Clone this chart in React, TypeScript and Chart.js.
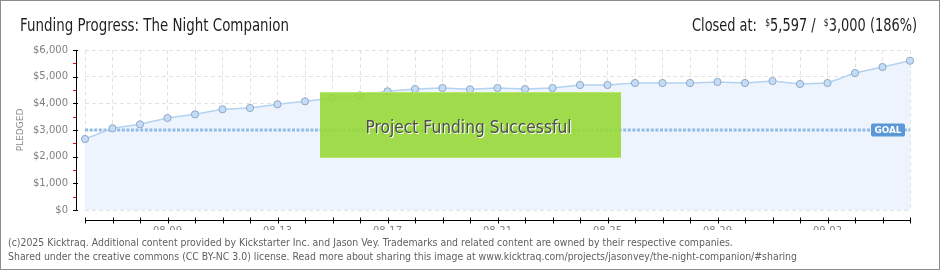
import React, { useEffect, useRef } from 'react';
import { Chart, registerables } from 'chart.js';

Chart.register(...registerables);

const DATES = [
  '08-06', '08-07', '08-08', '08-09', '08-10', '08-11', '08-12', '08-13', '08-14', '08-15',
  '08-16', '08-17', '08-18', '08-19', '08-20', '08-21', '08-22', '08-23', '08-24', '08-25',
  '08-26', '08-27', '08-28', '08-29', '08-30', '08-31', '09-01', '09-02', '09-03', '09-04', '09-05',
];
const PLEDGED = [
  2662, 3063, 3212, 3450, 3587, 3775, 3825, 3962, 4075, 4187,
  4300, 4450, 4537, 4575, 4525, 4575, 4537, 4575, 4687, 4687,
  4762, 4762, 4762, 4800, 4762, 4837, 4725, 4762, 5137, 5362, 5597,
];
const TICK_LABELS = ['08-09', '08-13', '08-17', '08-21', '08-25', '08-29', '09-02'];
const Y_TICKS = [0, 1000, 2000, 3000, 4000, 5000, 6000];
const GOAL = 3000;
const CLOSED = 5597;
const PERCENT = 186;
const TITLE = 'Funding Progress: The Night Companion';
const BANNER = 'Project Funding Successful';
const AXIS_TITLE = 'PLEDGED';
const GOAL_LABEL = 'GOAL';
const FOOTER = [
  '(c)2025 Kicktraq. Additional content provided by Kickstarter Inc. and Jason Vey. Trademarks and related content are owned by their respective companies.',
  'Shared under the creative commons (CC BY-NC 3.0) license. Read more about sharing this image at www.kicktraq.com/projects/jasonvey/the-night-companion/#sharing',
];

const fmt = (v: number) => v.toLocaleString('en-US');
const FONT = '"DejaVu Sans", sans-serif';

function fitText(ctx: CanvasRenderingContext2D, text: string, x: number, y: number, width: number, align: CanvasTextAlign) {
  const w = ctx.measureText(text).width;
  const s = width / w;
  ctx.save();
  ctx.translate(x, y);
  ctx.scale(s, 1);
  ctx.textAlign = align;
  ctx.fillText(text, 0, 0);
  ctx.restore();
}

const decorPlugin = {
  id: 'decor',
  beforeDraw(chart: any) {
    const ctx = chart.ctx as CanvasRenderingContext2D;
    ctx.save();
    ctx.fillStyle = '#ffffff';
    ctx.fillRect(0, 0, chart.width, chart.height);
    ctx.restore();
  },
  beforeDatasetsDraw(chart: any) {
    const ctx = chart.ctx as CanvasRenderingContext2D;
    const { left, right } = chart.chartArea;
    const y = Math.round(chart.scales.y.getPixelForValue(GOAL));
    ctx.save();
    ctx.strokeStyle = '#92bbe6';
    ctx.lineWidth = 3;
    ctx.setLineDash([3, 1.6]);
    ctx.beginPath();
    ctx.moveTo(left, y);
    ctx.lineTo(right, y);
    ctx.stroke();
    ctx.restore();
  },
  afterDatasetsDraw(chart: any) {
    const ctx = chart.ctx as CanvasRenderingContext2D;
    const ys = chart.scales.y;
    // success banner
    ctx.save();
    const bx = 320, by = 92, bw = 301, bh = 66;
    ctx.fillStyle = 'rgba(150,216,52,0.9)';
    ctx.fillRect(bx, by, bw, bh);
    ctx.beginPath();
    ctx.rect(bx, by, bw, bh);
    ctx.clip();
    ctx.strokeStyle = 'rgba(255,255,255,0.07)';
    ctx.lineWidth = 1;
    for (let i = -bh; i < bw; i += 4) {
      ctx.beginPath();
      ctx.moveTo(bx + i, by + bh);
      ctx.lineTo(bx + i + bh, by);
      ctx.stroke();
    }
    ctx.restore();
    ctx.save();
    ctx.fillStyle = 'rgba(190,235,120,0.8)';
    ctx.fillRect(bx, by, bw, 1);
    ctx.fillRect(bx, by + bh - 1, bw, 1);
    ctx.font = `17px ${FONT}`;
    ctx.textBaseline = 'alphabetic';
    ctx.fillStyle = '#ffffff';
    fitText(ctx, BANNER, 469.5, 134, 206, 'center');
    ctx.fillStyle = '#4d4d4d';
    fitText(ctx, BANNER, 468.5, 133, 206, 'center');
    ctx.restore();

    // goal label
    const gy = ys.getPixelForValue(GOAL);
    ctx.save();
    ctx.fillStyle = '#5b98d6';
    ctx.beginPath();
    (ctx as any).roundRect(871, gy - 6.5, 34, 13, 2);
    ctx.fill();
    ctx.fillStyle = '#ffffff';
    ctx.font = `bold 9px ${FONT}`;
    ctx.textBaseline = 'middle';
    fitText(ctx, GOAL_LABEL, 888, gy + 0.5, 27, 'center');
    ctx.restore();
  },
  afterDraw(chart: any) {
    const ctx = chart.ctx as CanvasRenderingContext2D;
    const ys = chart.scales.y;
    const xs = chart.scales.x;
    const { left, right, bottom } = chart.chartArea;
    ctx.save();
    // y axis line and ticks
    ctx.strokeStyle = '#000000';
    ctx.lineWidth = 1;
    ctx.beginPath();
    const ax = 76.5;
    ctx.moveTo(ax, Math.round(ys.getPixelForValue(Y_TICKS[Y_TICKS.length - 1])));
    ctx.lineTo(ax, Math.round(ys.getPixelForValue(Y_TICKS[0])) + 1);
    Y_TICKS.forEach((v) => {
      const py = Math.round(ys.getPixelForValue(v)) + 0.5;
      ctx.moveTo(73, py);
      ctx.lineTo(78, py);
    });
    ctx.stroke();
    ctx.strokeStyle = '#e01010';
    ctx.beginPath();
    for (let i = 0; i < Y_TICKS.length - 1; i++) {
      const mid = (Y_TICKS[i] + Y_TICKS[i + 1]) / 2;
      const py = Math.round(ys.getPixelForValue(mid)) + 0.5;
      ctx.moveTo(73, py);
      ctx.lineTo(76, py);
    }
    ctx.stroke();
    // x axis line and ticks
    ctx.strokeStyle = '#000000';
    ctx.beginPath();
    const axy = bottom + 10.5;
    ctx.moveTo(left, axy);
    ctx.lineTo(right + 1, axy);
    DATES.forEach((_, i) => {
      const px = Math.round(xs.getPixelForValue(i)) + 0.5;
      ctx.moveTo(px, axy - 3);
      ctx.lineTo(px, axy + 3);
    });
    ctx.stroke();

    // header
    ctx.fillStyle = '#1e1e1e';
    ctx.textBaseline = 'alphabetic';
    ctx.font = `17px ${FONT}`;
    fitText(ctx, TITLE, 20, 31, 269, 'left');

    const pieces = [
      { t: 'Closed at:  ', small: false },
      { t: '$', small: true },
      { t: `${fmt(CLOSED)} /  `, small: false },
      { t: '$', small: true },
      { t: `${fmt(GOAL)} (${PERCENT}%)`, small: false },
    ];
    const bigFont = `17px ${FONT}`;
    const smallFont = `10px ${FONT}`;
    let total = 0;
    const widths = pieces.map((p) => {
      ctx.font = p.small ? smallFont : bigFont;
      const w = ctx.measureText(p.t).width;
      total += w;
      return w;
    });
    const target = 225;
    const s = target / total;
    ctx.save();
    ctx.translate(917 - target, 31);
    ctx.scale(s, 1);
    let cx = 0;
    pieces.forEach((p, i) => {
      ctx.font = p.small ? smallFont : bigFont;
      ctx.textAlign = 'left';
      ctx.fillText(p.t, cx, p.small ? -5 : 0);
      cx += widths[i];
    });
    ctx.restore();

    // footer
    ctx.fillStyle = '#606060';
    ctx.font = `10px ${FONT}`;
    const w2 = ctx.measureText(FOOTER[1]).width;
    const fs = 789 / w2;
    FOOTER.forEach((line, i) => {
      ctx.save();
      ctx.translate(8, 246 + i * 14);
      ctx.scale(fs, 1);
      ctx.textAlign = 'left';
      ctx.fillText(line, 0, 0);
      ctx.restore();
    });

    // frame
    ctx.strokeStyle = '#8c8c8c';
    ctx.lineWidth = 1;
    ctx.strokeRect(0.5, 0.5, chart.width - 1, chart.height - 1);
    ctx.restore();
  },
};

export default function App() {
  const ref = useRef<HTMLCanvasElement | null>(null);
  useEffect(() => {
    document.body.style.margin = '0';
    const canvas = ref.current!;
    const chart = new Chart(canvas, {
      type: 'line',
      data: {
        labels: DATES,
        datasets: [
          {
            data: PLEDGED,
            borderColor: '#b4d2f1',
            borderWidth: 1.5,
            backgroundColor: '#edf4fd',
            fill: 'origin',
            tension: 0,
            pointRadius: 3.6,
            pointBackgroundColor: '#c4dcf6',
            pointBorderColor: '#8fa9c9',
            pointBorderWidth: 1,
          },
        ],
      },
      options: {
        animation: false,
        responsive: false,
        devicePixelRatio: 1,
        layout: { padding: { left: 10, right: 30, top: 50, bottom: 40 } },
        plugins: {
          legend: { display: false },
          tooltip: { enabled: false },
          filler: { drawTime: 'beforeDatasetsDraw' },
        } as any,
        scales: {
          x: {
            type: 'category',
            offset: false,
            afterFit: (scale: any) => { scale.height = 20; },
            grid: { color: '#e2e2e2', drawTicks: false, lineWidth: 1 },
            border: { display: false, dash: [4, 3] },
            ticks: {
              autoSkip: false,
              maxRotation: 0,
              padding: 15,
              color: '#808080',
              font: { family: 'DejaVu Sans', size: 10 },
              callback: (_v: any, i: number) => (TICK_LABELS.includes(DATES[i]) ? DATES[i] : ''),
            },
          },
          y: {
            min: Y_TICKS[0],
            max: Y_TICKS[Y_TICKS.length - 1],
            afterFit: (scale: any) => { scale.width = 75; },
            afterBuildTicks: (scale: any) => { scale.ticks = Y_TICKS.map((v) => ({ value: v })); },
            grid: { color: '#e2e2e2', drawTicks: false, lineWidth: 1 },
            border: { display: false, dash: [4, 3] },
            title: {
              display: true,
              text: AXIS_TITLE,
              color: '#8a8a8a',
              font: { family: 'DejaVu Sans', size: 9 },
              padding: { top: 5, bottom: 0 },
            },
            ticks: {
              padding: 17,
              color: '#808080',
              font: { family: 'DejaVu Sans', size: 10 },
              callback: (v: any) => '$' + fmt(Number(v)),
            },
          },
        },
      },
      plugins: [decorPlugin],
    });
    return () => chart.destroy();
  }, []);
  return (
    <div style={{ width: 940, height: 270 }}>
      <canvas ref={ref} width={940} height={270} style={{ width: 940, height: 270, display: 'block' }} />
    </div>
  );
}
